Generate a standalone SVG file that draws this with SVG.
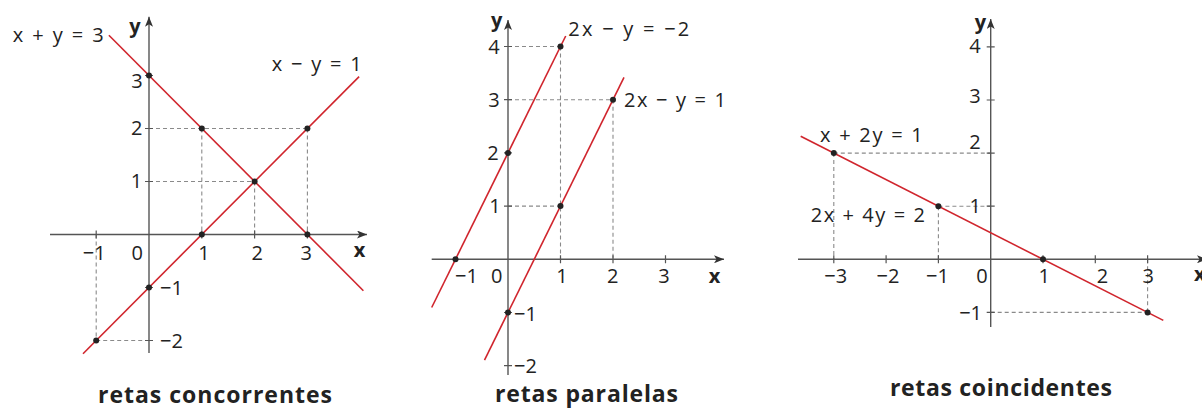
<svg xmlns="http://www.w3.org/2000/svg" width="1202" height="408" viewBox="0 0 1202 408">
<style>
.bg{fill:#ffffff}
.axis{stroke:#555555;stroke-width:1.4;fill:none}
.tick{stroke:#555555;stroke-width:1.2}
.dash{stroke:#8a8a8a;stroke-width:1.1;stroke-dasharray:4 3;fill:none}
.red{stroke:#d0252d;stroke-width:1.6;fill:none}
.dot{fill:#222222}
text{font-family:"Open Sans","Liberation Sans",sans-serif;fill:#222222}
.n{font-size:20px;font-weight:500}
.c{text-anchor:middle}
.e{text-anchor:end}
.b{font-weight:bold;font-size:20px}
.t{font-weight:bold;font-size:23px}
</style>
<defs>
<marker id="arr" viewBox="0 0 10 8" refX="10" refY="4" markerWidth="10" markerHeight="8" markerUnits="userSpaceOnUse" orient="auto">
<path d="M0,0 L10,4 L0,8 L2.5,4 z" fill="#333333"/>
</marker>
</defs>
<rect class="bg" x="0" y="0" width="1202" height="408"/>

<!-- Graph 1: retas concorrentes -->
<g id="graph-concorrentes">
<g id="g1-dashes">
<path class="dash" d="M149,128.5 H307.4 M201.8,128.5 V234.5 M307.4,128.5 V234.5 M149,181.5 H254.6 M254.6,181.5 V234.5 M96.2,234.5 V340.5 M96.2,340.5 H149"/>
</g>
<g id="g1-axes">
<line class="axis" x1="50" y1="234.5" x2="367" y2="234.5" marker-end="url(#arr)"/>
<line class="axis" x1="149" y1="353" x2="149" y2="16.7" marker-end="url(#arr)"/>
<path class="tick" d="M96.2,230.5 V238.5 M201.8,230.5 V238.5 M254.6,230.5 V238.5 M307.4,230.5 V238.5 M145,75.5 H153 M145,128.5 H153 M145,181.5 H153 M145,287.5 H153 M145,340.5 H153"/>
</g>
<g id="g1-lines">
<line id="line-x-plus-y-3" class="red" x1="108.9" y1="35.2" x2="363.4" y2="290.7"/>
<line id="line-x-minus-y-1" class="red" x1="83" y1="353.7" x2="359.1" y2="76.6"/>
</g>
<g id="g1-dots">
<circle class="dot" cx="149" cy="75.5" r="3"/>
<circle class="dot" cx="201.8" cy="128.5" r="3"/>
<circle class="dot" cx="307.4" cy="128.5" r="3"/>
<circle class="dot" cx="254.6" cy="181.5" r="3"/>
<circle class="dot" cx="201.8" cy="234.5" r="3"/>
<circle class="dot" cx="307.4" cy="234.5" r="3"/>
<circle class="dot" cx="149" cy="287.5" r="3"/>
<circle class="dot" cx="96.2" cy="340.5" r="3"/>
</g>
<g id="g1-labels">
<text class="b c" x="135" y="32.5">y</text>
<text class="b c" x="359.5" y="257">x</text>
<text class="n" x="12.7" y="42" textLength="91" lengthAdjust="spacing">x + y = 3</text>
<text class="n" x="271.7" y="70.5" textLength="90" lengthAdjust="spacing">x − y = 1</text>
<text class="n c" x="137" y="87.5">3</text>
<text class="n c" x="136.7" y="135">2</text>
<text class="n c" x="136.5" y="188">1</text>
<text class="n c" x="94.3" y="259.5">−1</text>
<text class="n c" x="137.2" y="259.5">0</text>
<text class="n c" x="204" y="259.5">1</text>
<text class="n c" x="257.2" y="259.5">2</text>
<text class="n c" x="306.2" y="259.5">3</text>
<text class="n" x="160" y="294.5">−1</text>
<text class="n" x="160" y="347.5">−2</text>
<text class="t" x="98" y="403" textLength="234" lengthAdjust="spacing">retas  concorrentes</text>
</g>
</g>

<!-- Graph 2: retas paralelas -->
<g id="graph-paralelas">
<g id="g2-dashes">
<path class="dash" d="M508,46.5 H560.5 M560.5,46.5 V259.3 M508,99.7 H613 M613,99.7 V259.3 M508,206.1 H560.5"/>
</g>
<g id="g2-axes">
<line class="axis" x1="431.7" y1="259.3" x2="724" y2="259.3" marker-end="url(#arr)"/>
<line class="axis" x1="508" y1="375" x2="508" y2="20" marker-end="url(#arr)"/>
<path class="tick" d="M560.5,255.3 V263.3 M613,255.3 V263.3 M665.5,255.3 V263.3 M504,46.5 H512 M504,99.7 H512 M504,152.9 H512 M504,206.1 H512 M504,312.5 H512 M504,365.7 H512"/>
</g>
<g id="g2-lines">
<line id="line-2x-minus-y-neg2" class="red" x1="431.7" y1="307.5" x2="565.7" y2="36"/>
<line id="line-2x-minus-y-1" class="red" x1="484.5" y1="360.1" x2="624" y2="77.4"/>
</g>
<g id="g2-dots">
<circle class="dot" cx="455.5" cy="259.3" r="3"/>
<circle class="dot" cx="508" cy="152.9" r="3"/>
<circle class="dot" cx="560.5" cy="46.5" r="3"/>
<circle class="dot" cx="508" cy="312.5" r="3"/>
<circle class="dot" cx="560.5" cy="206.1" r="3"/>
<circle class="dot" cx="613" cy="99.7" r="3"/>
</g>
<g id="g2-labels">
<text class="b c" x="496.7" y="27.3">y</text>
<text class="b c" x="714.5" y="282.7">x</text>
<text class="n" x="568.3" y="35.5" textLength="121" lengthAdjust="spacing">2x − y = −2</text>
<text class="n" x="624" y="106.5" textLength="102" lengthAdjust="spacing">2x − y = 1</text>
<text class="n c" x="494" y="53.5">4</text>
<text class="n c" x="494" y="107">3</text>
<text class="n c" x="493" y="160">2</text>
<text class="n c" x="495" y="213">1</text>
<text class="n c" x="466.5" y="283.3">−1</text>
<text class="n c" x="496.7" y="283.3">0</text>
<text class="n c" x="562" y="283.3">1</text>
<text class="n c" x="612.7" y="283.3">2</text>
<text class="n c" x="664" y="283.3">3</text>
<text class="n" x="514" y="321">−1</text>
<text class="n" x="514" y="373">−2</text>
<text class="t" x="495" y="402" textLength="183" lengthAdjust="spacing">retas  paralelas</text>
</g>
</g>

<!-- Graph 3: retas coincidentes -->
<g id="graph-coincidentes">
<g id="g3-dashes">
<path class="dash" d="M833.8,153.1 H990.7 M833.8,153.1 V259.3 M938.4,206.2 H990.7 M938.4,206.2 V259.3 M1147.6,259.3 V312.4 M990.7,312.4 H1147.6"/>
</g>
<g id="g3-axes">
<line class="axis" x1="798" y1="259.3" x2="1207" y2="259.3" marker-end="url(#arr)"/>
<line class="axis" x1="990.7" y1="327" x2="990.7" y2="19" marker-end="url(#arr)"/>
<path class="tick" d="M833.8,255.3 V263.3 M886.1,255.3 V263.3 M938.4,255.3 V263.3 M1043,255.3 V263.3 M1095.3,255.3 V263.3 M1147.6,255.3 V263.3 M986.7,46.9 H994.7 M986.7,100 H994.7 M986.7,153.1 H994.7 M986.7,206.2 H994.7 M986.7,312.4 H994.7"/>
</g>
<g id="g3-lines">
<line id="line-x-plus-2y-1" class="red" x1="800.7" y1="136.3" x2="1163.3" y2="320.4"/>
</g>
<g id="g3-dots">
<circle class="dot" cx="833.8" cy="153.1" r="3"/>
<circle class="dot" cx="938.4" cy="206.2" r="3"/>
<circle class="dot" cx="1043" cy="259.3" r="3"/>
<circle class="dot" cx="1147.6" cy="312.4" r="3"/>
</g>
<g id="g3-labels">
<text class="b c" x="980.5" y="29">y</text>
<text class="b" x="1194" y="281">x</text>
<text class="n" x="820" y="141.5" textLength="102.7" lengthAdjust="spacing">x + 2y = 1</text>
<text class="n" x="810.7" y="221.5" textLength="114.3" lengthAdjust="spacing">2x + 4y = 2</text>
<text class="n c" x="975" y="53.3">4</text>
<text class="n c" x="975" y="103.3">3</text>
<text class="n c" x="975" y="149.3">2</text>
<text class="n c" x="975.3" y="213.3">1</text>
<text class="n e" x="982" y="319.5">−1</text>
<text class="n c" x="835.8" y="282.7">−3</text>
<text class="n c" x="888" y="282.7">−2</text>
<text class="n c" x="937.5" y="282.7">−1</text>
<text class="n c" x="982" y="282.7">0</text>
<text class="n c" x="1044.2" y="282.7">1</text>
<text class="n c" x="1102.5" y="282.7">2</text>
<text class="n c" x="1148.3" y="282.7">3</text>
<text class="t" x="890" y="396" textLength="222" lengthAdjust="spacing">retas  coincidentes</text>
</g>
</g>
</svg>
